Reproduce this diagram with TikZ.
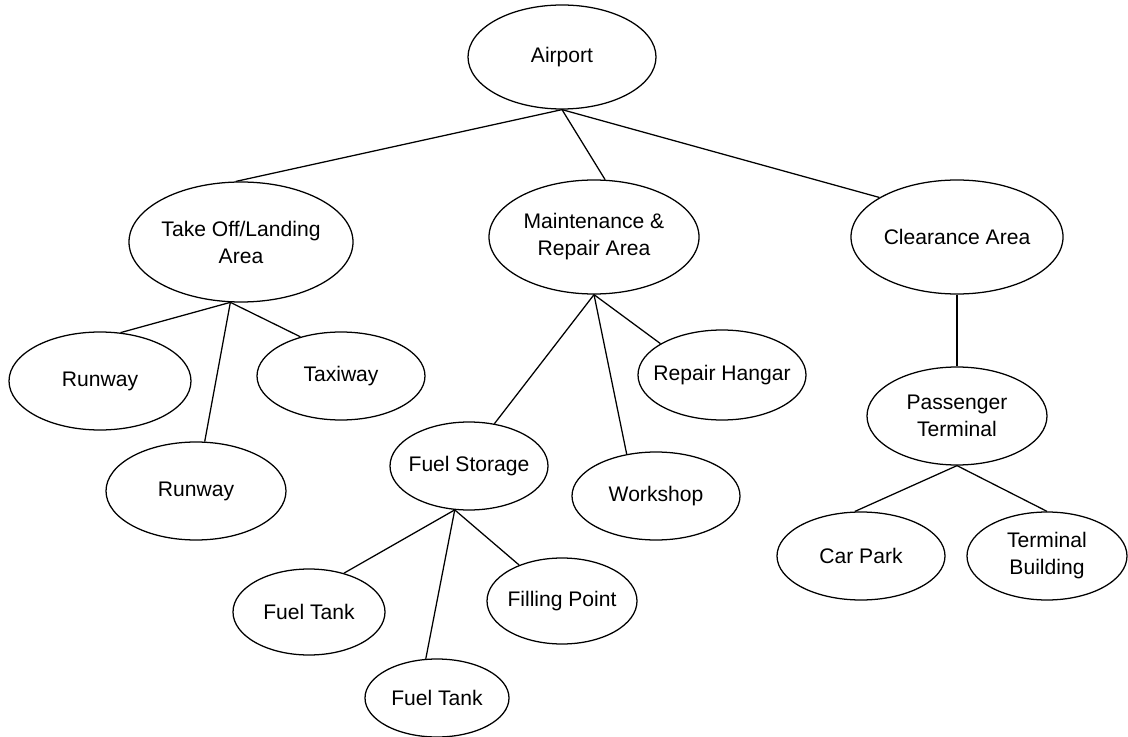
\documentclass[tikz,border=0pt]{standalone}
\usepackage{fontspec}
\setmainfont{Liberation Sans}
\usepackage{tikz}
\usetikzlibrary{shapes.geometric}

\begin{document}
\begin{tikzpicture}[
        every node/.style={font=\fontsize{15}{19.2}\selectfont},
        every label/.style={align=center},
        area/.style 2 args={ellipse, draw=black, line width=0.9pt, inner sep=0pt, minimum width=#1, minimum height=#2},
        link/.style={line width=0.9pt}
    ]

    \useasboundingbox (0,0) rectangle (28.2,-18.425);

    % Nodes
    \node (airport) [area={4.7cm}{2.6cm}, label=center:Airport] at (14.05,-1.425) {};

    \node (takeoff) [area={5.6cm}{3cm}, label=center:Take Off/Landing\\Area] at (6.025,-6.05) {};
    \node (maint) [area={5.25cm}{2.85cm}, label=center:Maintenance \&\\Repair Area] at (14.85,-5.925) {};
    \node (clearance) [area={5.3cm}{2.85cm}, label=center:Clearance Area] at (23.925,-5.925) {};

    \node (runwaya) [area={4.55cm}{2.45cm}, label=center:Runway] at (2.5,-9.525) {};
    \node (taxiway) [area={4.2cm}{2.2cm}, label=center:Taxiway] at (8.525,-9.4) {};
    \node (runwayb) [area={4.5cm}{2.45cm}, label=center:Runway] at (4.9,-12.275) {};

    \node (hangar) [area={4.2cm}{2.25cm}, label=center:Repair Hangar] at (18.05,-9.375) {};
    \node (fuelstore) [area={3.95cm}{2.2cm}, label=center:Fuel Storage] at (11.725,-11.65) {};
    \node (workshop) [area={4.2cm}{2.2cm}, label=center:Workshop] at (16.4,-12.4) {};

    \node (tanka) [area={3.8cm}{2.15cm}, label=center:Fuel Tank] at (7.725,-15.3) {};
    \node (filling) [area={3.75cm}{2.15cm}, label=center:Filling Point] at (14.05,-15.025) {};
    \node (tankb) [area={3.6cm}{1.95cm}, label=center:Fuel Tank] at (10.925,-17.45) {};

    \node (passenger) [area={4.5cm}{2.45cm}, label=center:Passenger\\Terminal] at (23.925,-10.4) {};
    \node (carpark) [area={4.2cm}{2.2cm}, label=center:Car Park] at (21.525,-13.9) {};
    \node (terminal) [area={4cm}{2.2cm}, label=center:Terminal\\Building] at (26.175,-13.9) {};

    % Lines
    \draw [link] (airport.south) -- (takeoff.95);
    \draw [link] (airport.south) -- (maint.79);
    \draw [link] (airport.south) -- (clearance.153);

    \draw [link] (takeoff.260) -- (runwaya.67);
    \draw [link] (takeoff.260) -- (taxiway.136);
    \draw [link] (takeoff.260) -- (runwayb.80);

    \draw [link] (maint.south) -- (fuelstore.59);
    \draw [link] (maint.south) -- (workshop.125);
    \draw [link] (maint.south) -- (hangar.153);

    \draw [link] (fuelstore.252) -- (tanka.48);
    \draw [link] (fuelstore.252) -- (filling.140);
    \draw [link] (fuelstore.252) -- (tankb.106);

    \draw [link] (clearance.south) -- (passenger.north);
    \draw [link] (passenger.south) -- (carpark.98);
    \draw [link] (passenger.south) -- (terminal.north);

\end{tikzpicture}
\end{document}
